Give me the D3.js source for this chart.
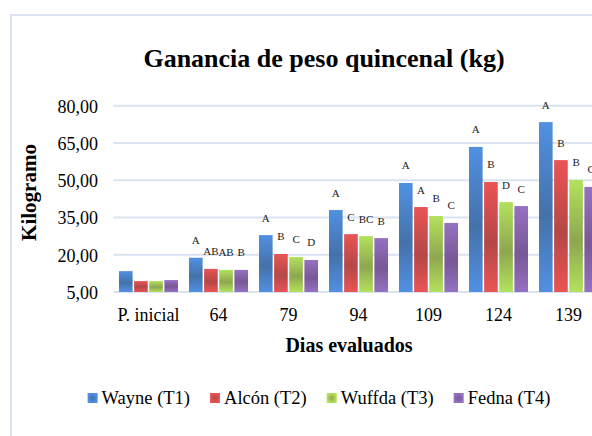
<!DOCTYPE html>
<html>
<head>
<meta charset="utf-8">
<script src="https://cdn.jsdelivr.net/npm/d3@7"></script>
<style>
    html, body { margin: 0; padding: 0; background: #fff; }
    svg text { font-family: "Times New Roman", "Liberation Serif", serif; }
</style>
</head>
<body>
<div id="chart"></div>
<script>
var categorias = ["P. inicial", "64", "79", "94", "109", "124", "139"];
var tratamientos = ["Wayne (T1)", "Alcón (T2)", "Wuffda (T3)", "Fedna (T4)"];

var wayne  = [13.4, 18.8, 27.9, 38.0, 48.9, 63.4, 73.4];
var alcon  = [9.4, 14.3, 20.3, 28.3, 39.2, 49.3, 58.1];
var wuffda = [9.4, 13.9, 19.1, 27.5, 35.6, 41.2, 50.1];
var fedna  = [9.8, 13.9, 17.9, 26.7, 32.8, 39.6, 47.3];

// letras de significancia
var letrasWayne  = ["", "A", "A", "A", "A", "A", "A"];
var letrasAlcon  = ["", "AB", "B", "C", "A", "B", "B"];
var letrasWuffda = ["", "AB", "C", "BC", "B", "D", "B"];
var letrasFedna  = ["", "B", "D", "B", "C", "C", "C"];

var yTicks = [5, 20, 35, 50, 65, 80];

var valores = [wayne, alcon, wuffda, fedna];
var letras = [letrasWayne, letrasAlcon, letrasWuffda, letrasFedna];

// colores: [borde claro, centro oscuro]
var colores = [
    ["#5190e2", "#4472aa"],
    ["#ea5454", "#b44846"],
    ["#b3e25c", "#8ea64f"],
    ["#9571c2", "#785896"]
];

var FONT = "'Times New Roman', 'Liberation Serif', serif";
var WIDTH = 592, HEIGHT = 436;

var svg = d3.select("#chart").append("svg")
    .attr("width", WIDTH)
    .attr("height", HEIGHT)
    .style("display", "block");

var defs = svg.append("defs");

colores.forEach(function (c, i) {
    var g = defs.append("linearGradient")
        .attr("id", "grad" + i)
        .attr("x1", 0).attr("y1", 0).attr("x2", 0).attr("y2", 1);
    g.append("stop").attr("offset", "0%").attr("stop-color", c[0]);
    g.append("stop").attr("offset", "55%").attr("stop-color", c[1]);
    g.append("stop").attr("offset", "100%").attr("stop-color", c[0]);

    var r = defs.append("radialGradient").attr("id", "rad" + i);
    r.append("stop").attr("offset", "0%").attr("stop-color", c[1]);
    r.append("stop").attr("offset", "100%").attr("stop-color", c[0]);
});

// marco del grafico
svg.append("path")
    .attr("d", "M11," + HEIGHT + "V15H" + WIDTH)
    .attr("fill", "none")
    .attr("stroke", "#dae4f2")
    .attr("stroke-width", 2);

var x0 = d3.scaleBand()
    .domain(categorias)
    .range([113.5, 603.5])
    .paddingInner(0.157)
    .paddingOuter(0.0785);

var x1 = d3.scaleBand()
    .domain(d3.range(tratamientos.length))
    .range([0, x0.bandwidth()])
    .paddingInner(0.1);

var y = d3.scaleLinear()
    .domain([5, 80])
    .range([292, 105.7]);

var locale = d3.formatLocale({ decimal: ",", thousands: ".", grouping: [3], currency: ["", ""] });
var fmt = locale.format(".2f");

// lineas de division
svg.append("g")
    .selectAll("line")
    .data(yTicks)
    .enter().append("line")
    .attr("x1", 113.5)
    .attr("x2", WIDTH)
    .attr("y1", function (d) { return y(d); })
    .attr("y2", function (d) { return y(d); })
    .attr("stroke", "#d9e3f1")
    .attr("stroke-width", 2);

var yAxis = svg.append("g")
    .attr("transform", "translate(98,0)")
    .call(d3.axisLeft(y).tickValues(yTicks).tickFormat(fmt).tickSize(0).tickPadding(0))
    .attr("font-family", FONT)
    .attr("font-size", 18);
yAxis.select(".domain").remove();
yAxis.selectAll("text")
    .attr("fill", "#000")
    .attr("dy", "0.36em");

var xAxis = svg.append("g")
    .attr("transform", "translate(0,321)")
    .call(d3.axisBottom(x0).tickSize(0).tickPadding(0))
    .attr("font-family", FONT)
    .attr("font-size", 18);
xAxis.select(".domain").remove();
xAxis.selectAll("text")
    .attr("fill", "#000")
    .attr("dy", 0);

// barras
function filas(d, i) {
    return valores.map(function (serie, s) {
        return { s: s, v: serie[i], l: letras[s][i] };
    });
}

var grupos = svg.append("g").selectAll("g")
    .data(categorias)
    .enter().append("g")
    .attr("transform", function (d) { return "translate(" + x0(d) + ",0)"; });

grupos.selectAll("rect")
    .data(filas)
    .enter().append("rect")
    .attr("x", function (d) { return x1(d.s); })
    .attr("y", function (d) { return y(d.v); })
    .attr("width", x1.bandwidth())
    .attr("height", function (d) { return y(5) - y(d.v); })
    .attr("fill", function (d) { return "url(#grad" + d.s + ")"; });

grupos.selectAll("text")
    .data(filas)
    .enter().append("text")
    .attr("x", function (d) { return x1(d.s) + x1.bandwidth() / 2; })
    .attr("y", function (d) { return y(d.v) - 13.5; })
    .attr("text-anchor", "middle")
    .attr("font-family", FONT)
    .attr("font-size", 11)
    .attr("fill", "#222")
    .text(function (d) { return d.l; });

// titulos
svg.append("text")
    .attr("x", 324)
    .attr("y", 67)
    .attr("text-anchor", "middle")
    .attr("font-family", FONT)
    .attr("font-size", 26)
    .attr("font-weight", "bold")
    .text("Ganancia de peso quincenal (kg)");

svg.append("text")
    .attr("transform", "translate(36,192.5)rotate(-90)")
    .attr("text-anchor", "middle")
    .attr("font-family", FONT)
    .attr("font-size", 21)
    .attr("font-weight", "bold")
    .text("Kilogramo");

svg.append("text")
    .attr("x", 349)
    .attr("y", 352)
    .attr("text-anchor", "middle")
    .attr("font-family", FONT)
    .attr("font-size", 20)
    .attr("font-weight", "bold")
    .text("Dias evaluados");

// leyenda
var items = svg.append("g").selectAll("g")
    .data(tratamientos)
    .enter().append("g");

items.append("rect")
    .attr("width", 10)
    .attr("height", 10)
    .attr("y", 393)
    .attr("fill", function (d, i) { return "url(#rad" + i + ")"; });

items.append("text")
    .attr("x", 14)
    .attr("y", 404)
    .attr("font-family", FONT)
    .attr("font-size", 18.5)
    .attr("fill", "#000")
    .text(function (d) { return d; });

var pos = 0;
var desde = [];
items.each(function () {
    var w = d3.select(this).select("text").node().getComputedTextLength();
    desde.push(pos);
    pos += 14 + w + 20;
});
var inicio = 319 - (pos - 20) / 2;
items.attr("transform", function (d, i) { return "translate(" + (inicio + desde[i]) + ",0)"; });
</script>
</body>
</html>
